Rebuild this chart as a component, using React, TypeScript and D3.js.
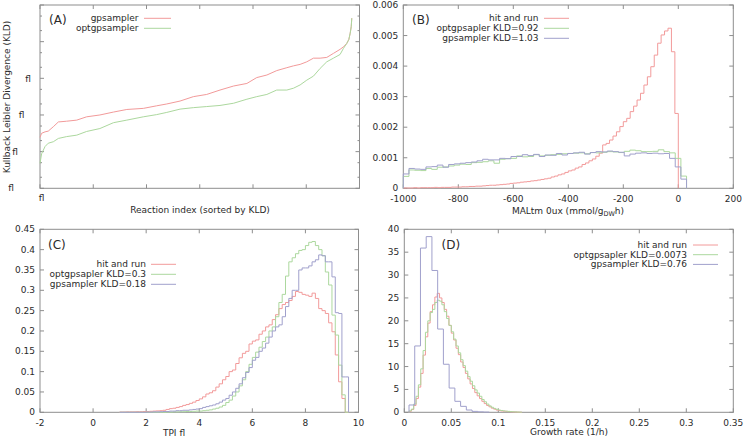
import React from 'react';
import * as d3 from 'd3';

// ---------- Panel A: sorted KLD (log10 values) ----------
const aIndex = [0, 6, 19, 31, 50, 69, 100, 138, 175, 225, 276, 326, 388, 438, 476, 526, 576, 626, 676, 727, 777, 814, 852, 889, 927, 952, 977, 1002, 1027, 1052, 1077, 1102, 1127, 1140, 1152, 1160, 1165, 1169, 1171];
const aGpsamplerLog = [-2.61, -2.5, -2.46, -2.44, -2.32, -2.19, -2.17, -2.14, -2.05, -2.0, -1.92, -1.85, -1.82, -1.75, -1.7, -1.62, -1.5, -1.44, -1.32, -1.21, -1.14, -0.98, -0.91, -0.79, -0.71, -0.66, -0.62, -0.55, -0.45, -0.45, -0.43, -0.32, -0.21, -0.14, -0.05, 0.06, 0.23, 0.41, 0.64];
const aOptgpsamplerLog = [-3.32, -3.06, -2.86, -2.77, -2.73, -2.64, -2.59, -2.55, -2.45, -2.37, -2.21, -2.14, -2.05, -1.99, -1.93, -1.84, -1.8, -1.77, -1.74, -1.68, -1.57, -1.5, -1.44, -1.32, -1.32, -1.27, -1.18, -1.05, -0.94, -0.73, -0.55, -0.45, -0.35, -0.18, -0.05, 0.06, 0.23, 0.41, 0.64];
const aLegend = ['gpsampler', 'optgpsampler'];

// ---------- Panel B: MALtm flux histograms ----------
const bHitStart = -1000;
const bHitWidth = 12.5;
const bHitAndRun = [
  0.00001, 0.00001, 0.00001, 0.00002, 0.00001, 0.00002, 0.00002, 0.00002,
  0.00002, 0.00003, 0.00002, 0.00003, 0.00003, 0.00003, 0.00004, 0.00004,
  0.00004, 0.00005, 0.00005, 0.00006, 0.00006, 0.00007, 0.00007, 0.00008,
  0.00009, 0.0001, 0.0001, 0.00011, 0.00012, 0.00013, 0.00014, 0.00016,
  0.00017, 0.00018, 0.0002, 0.00021, 0.00022, 0.00024, 0.00025, 0.00027,
  0.00029, 0.00031, 0.00033, 0.00037, 0.0004, 0.00044, 0.00047, 0.00052,
  0.00057, 0.0006, 0.00066, 0.0007, 0.00078, 0.00083, 0.0009, 0.00096,
  0.00105, 0.00115,
  0.00142, 0.00147, 0.00158, 0.00171, 0.00185, 0.00202, 0.00218, 0.00229, 0.00251, 0.00269,
  0.00289, 0.00311, 0.00338, 0.00365, 0.00398, 0.00436, 0.00475, 0.00502,
  0.00515, 0.00524, 0.00447, 0.00245,
];
const bGpStart = -1000;
const bGpWidth = 20.6;
const bOptgpsapler = [
  0.00039, 0.0006, 0.00059, 0.00058, 0.00065, 0.00062, 0.00069, 0.0007, 0.00073, 0.00076,
  0.00079, 0.00078, 0.00084, 0.00085, 0.00087, 0.0009, 0.00082, 0.00095, 0.00097, 0.00098,
  0.00106, 0.00103, 0.00104, 0.0011, 0.00106, 0.00108, 0.0011, 0.00111, 0.00113, 0.00114,
  0.00115, 0.00116, 0.00113, 0.00117, 0.00116, 0.00118, 0.0012, 0.00119, 0.00117, 0.00121,
  0.00125, 0.00123, 0.0012, 0.0012, 0.00121, 0.00126, 0.0012, 0.00116, 0.00098, 0.0004,
];
const bGpsampler = [
  0.00047, 0.00065, 0.00063, 0.00062, 0.0007, 0.00071, 0.00076, 0.00069, 0.00078, 0.0008,
  0.00082, 0.00084, 0.00086, 0.0009, 0.00095, 0.00093, 0.00093, 0.00098, 0.00097, 0.00104,
  0.00104, 0.0011, 0.00107, 0.00111, 0.00104, 0.00109, 0.00108, 0.00114, 0.00109, 0.00114,
  0.00116, 0.00118, 0.00112, 0.00117, 0.0012, 0.00119, 0.00122, 0.0012, 0.00118, 0.00106,
  0.00112, 0.00115, 0.00116, 0.00114, 0.00115, 0.00113, 0.00114, 0.00098, 0.0007, 0.0003,
];
const bLegend = ['hit and run', 'optgpsapler KLD=0.92', 'gpsampler KLD=1.03'];
const bYTicks = [0, 0.001, 0.002, 0.003, 0.004, 0.005, 0.006];
const bXTicks = [-1000, -800, -600, -400, -200, 0, 200];

// ---------- Panel C: TPI histograms ----------
const cStart = 1.0;
const cWidth = 0.125;
const cHitAndRun = [
  0.0005, 0.0005, 0.001, 0.001, 0.001, 0.0015, 0.0015, 0.002, 0.002, 0.0025,
  0.003, 0.0035, 0.004, 0.005, 0.007, 0.009, 0.01, 0.012, 0.014, 0.017,
  0.019, 0.022, 0.025, 0.029, 0.033, 0.038, 0.045, 0.048, 0.053, 0.062,
  0.07, 0.08, 0.088, 0.1, 0.104, 0.12, 0.134, 0.145, 0.15, 0.168,
  0.175, 0.178, 0.192, 0.2, 0.21, 0.215, 0.228, 0.24, 0.255, 0.265,
  0.27, 0.275, 0.285, 0.297, 0.295, 0.29, 0.288, 0.285, 0.293, 0.28,
  0.255, 0.25, 0.243, 0.22, 0.198, 0.141, 0.075, 0.034, 0,
];
const cOptgpsapler = [
  0, 0, 0, 0, 0, 0, 0, 0, 0, 0,
  0, 0, 0, 0, 0.0005, 0.0005, 0.001, 0.001, 0.0015, 0.0015,
  0.002, 0.002, 0.0025, 0.003, 0.003, 0.004, 0.005, 0.006, 0.008, 0.01,
  0.013, 0.017, 0.024, 0.03, 0.04, 0.05, 0.065, 0.08, 0.1, 0.118,
  0.135, 0.148, 0.16, 0.174, 0.185, 0.2, 0.21, 0.235, 0.27, 0.29,
  0.335, 0.37, 0.38, 0.39, 0.398, 0.4, 0.41, 0.418, 0.42, 0.41,
  0.4, 0.385, 0.345, 0.313, 0.239, 0.19, 0.116, 0.043, 0,
];
const cGpsampler = [
  0, 0, 0, 0, 0, 0, 0, 0, 0.0005, 0.0005,
  0.001, 0.001, 0.0015, 0.002, 0.002, 0.003, 0.003, 0.004, 0.004, 0.005,
  0.005, 0.006, 0.007, 0.008, 0.009, 0.012, 0.014, 0.016, 0.018, 0.021,
  0.025, 0.03, 0.034, 0.042, 0.05, 0.059, 0.07, 0.085, 0.098, 0.11,
  0.128, 0.135, 0.15, 0.158, 0.17, 0.185, 0.2, 0.21, 0.215, 0.235,
  0.26, 0.28, 0.3, 0.3, 0.35, 0.355, 0.355, 0.36, 0.37, 0.375,
  0.387, 0.385, 0.37, 0.37, 0.333, 0.245, 0.243, 0.087, 0.087,
];
const cLegend = ['hit and run', 'optgpsapler KLD=0.3', 'gpsampler KLD=0.18'];
const cYTicks = [0, 0.05, 0.1, 0.15, 0.2, 0.25, 0.3, 0.35, 0.4, 0.45];
const cXTicks = [-2, 0, 2, 4, 6, 8, 10];

// ---------- Panel D: growth rate histograms ----------
const dFineStart = 0.005;
const dFineWidth = 0.0025;
const dHitAndRun = [
  0.2, 0.6, 1.5, 3, 5.5, 8.5, 12.5, 16.5, 19.5, 22,
  23.5, 25.2, 26, 25, 24, 22.5, 21, 19, 17.3, 15.8,
  14, 12.6, 11, 9.8, 8.5, 7.3, 6.2, 5.2, 4.3, 3.6,
  3, 2.4, 1.9, 1.5, 1.2, 0.9, 0.7, 0.5, 0.4, 0.3,
  0.25, 0.2, 0.15, 0.1, 0.08, 0.05, 0.03, 0.02,
];
const dOptgpsapler = [
  0.3, 0.7, 1.8, 3.5, 6, 9.5, 13.5, 17.5, 20, 21.8,
  22.5, 24, 24.5, 24.3, 23.5, 22, 20.5, 19, 17.6, 16,
  14.5, 13, 11.5, 10.2, 9, 7.8, 6.8, 5.8, 4.9, 4.2,
  3.5, 2.8, 2.3, 1.8, 1.4, 1.1, 0.85, 0.65, 0.5, 0.4,
  0.3, 0.25, 0.2, 0.15, 0.1, 0.08, 0.05, 0.03,
];
const dGpStart = 0.005;
const dGpWidth = 0.0061;
const dGpsampler = [1.6, 14.5, 35.9, 38.4, 31, 18.2, 10.5, 5.3, 2.4, 1.3, 0.5, 0.2, 0.1, 0.05];
const dLegend = ['hit and run', 'optgpsapler KLD=0.0073', 'gpsampler KLD=0.76'];
const dYTicks = [0, 5, 10, 15, 20, 25, 30, 35, 40];
const dXTicks = [0, 0.05, 0.1, 0.15, 0.2, 0.25, 0.3, 0.35];

// ---------- styles ----------
const FONT = '"DejaVu Sans", sans-serif';
const RED = '#f29a9a';
const GREEN = '#acd89e';
const BLUE = '#a0a0cc';
const BORDER = '#8e8e8e';
const TEXT = '#2a2a2a';
const FS = 9;

type Scale = d3.ScaleLinear<number, number>;

function stepPath(start: number, width: number, vals: number[], xs: Scale, ys: Scale) {
  const pts: [number, number][] = [[start, 0]];
  vals.forEach((v, i) => {
    pts.push([start + i * width, v]);
    pts.push([start + (i + 1) * width, v]);
  });
  pts.push([start + vals.length * width, 0]);
  return d3.line<[number, number]>().x((d) => xs(d[0])).y((d) => ys(d[1]))(pts) || '';
}

function fmt(v: number) {
  return String(+v.toFixed(4));
}

function Frame({ xs, ys, xTicks, yTicks, yMinor = [], showX = true, showY = true }: any) {
  const [x0, x1] = xs.range();
  const [y0, y1] = ys.range();
  const L = 4;
  const l = 2;
  return (
    <g>
      <rect x={x0} y={y1} width={x1 - x0} height={y0 - y1} fill="none" stroke={BORDER} strokeWidth={1} />
      {xTicks.map((t: number, i: number) => (
        <g key={'x' + i}>
          <line x1={xs(t)} x2={xs(t)} y1={y0} y2={y0 - L} stroke={BORDER} />
          <line x1={xs(t)} x2={xs(t)} y1={y1} y2={y1 + L} stroke={BORDER} />
          {showX && (
            <text x={xs(t)} y={y0 + 11} textAnchor="middle" dominantBaseline="central" fontSize={FS} fill={TEXT}>
              {fmt(t)}
            </text>
          )}
        </g>
      ))}
      {yTicks.map((t: number, i: number) => (
        <g key={'y' + i}>
          <line x1={x0} x2={x0 + L} y1={ys(t)} y2={ys(t)} stroke={BORDER} />
          <line x1={x1} x2={x1 - L} y1={ys(t)} y2={ys(t)} stroke={BORDER} />
          {showY && (
            <text x={x0 - 5} y={ys(t)} textAnchor="end" dominantBaseline="central" fontSize={FS} fill={TEXT}>
              {fmt(t)}
            </text>
          )}
        </g>
      ))}
      {yMinor.map((t: number, i: number) => (
        <g key={'ym' + i}>
          <line x1={x0} x2={x0 + l} y1={ys(t)} y2={ys(t)} stroke={BORDER} />
          <line x1={x1} x2={x1 - l} y1={ys(t)} y2={ys(t)} stroke={BORDER} />
        </g>
      ))}
    </g>
  );
}

function Legend({ labels, colors, textRight, lineX0, lineX1, y0, dy }: any) {
  return (
    <g>
      {labels.map((lab: string, i: number) => (
        <g key={i}>
          <text x={textRight} y={y0 + i * dy} textAnchor="end" dominantBaseline="central" fontSize={FS} fill={TEXT}>
            {lab}
          </text>
          <line x1={lineX0} x2={lineX1} y1={y0 + i * dy} y2={y0 + i * dy} stroke={colors[i]} strokeWidth={1} />
        </g>
      ))}
    </g>
  );
}

export default function App() {
  // Panel A
  const xA = d3.scaleLinear().domain([0, 1200]).range([40, 359.5]);
  const yA = d3.scaleLinear().domain([-4, 1]).range([188.3, 5]);
  const aMajor = [-4, -3, -2, -1, 0, 1];
  const aMinor: number[] = [];
  [-4, -3, -2, -1, 0].forEach((d) => {
    aMinor.push(d + Math.log10(2));
    aMinor.push(d + Math.log10(5));
  });
  const aXTicks = [0, 200, 400, 600, 800, 1000, 1200];
  const lineA = (vals: number[]) =>
    d3.line<number>().x((_, i) => xA(aIndex[i])).y((d) => yA(d))(vals) || '';

  // Panel B
  const xB = d3.scaleLinear().domain([-1000, 200]).range([403.3, 733.3]);
  const yB = d3.scaleLinear().domain([0, 0.006]).range([188.3, 5]);

  // Panel C
  const xC = d3.scaleLinear().domain([-2, 10]).range([40, 358.5]);
  const yC = d3.scaleLinear().domain([0, 0.45]).range([412.3, 229.3]);

  // Panel D
  const xD = d3.scaleLinear().domain([0, 0.35]).range([404.3, 733.3]);
  const yD = d3.scaleLinear().domain([0, 40]).range([412.3, 229.3]);

  const fLabels: [number, number][] = [
    [11, 188.3],
    [15, 151.7],
    [21.7, 115.3],
    [28, 78.7],
  ];

  return (
    <div style={{ position: 'absolute', left: 0, top: 0 }}>
      <svg width={745} height={439} style={{ display: 'block', background: '#fff' }} fontFamily={FONT}>
        <rect x={0} y={0} width={745} height={439} fill="#fff" />

        {/* Panel A */}
        <Frame xs={xA} ys={yA} xTicks={aXTicks} yTicks={aMajor} yMinor={aMinor} showX={false} showY={false} />
        {fLabels.map(([x, y], i) => (
          <text key={i} x={x} y={y} textAnchor="middle" dominantBaseline="central" fontSize={FS} fill={TEXT}>
            fl
          </text>
        ))}
        <text x={41.7} y={198} textAnchor="middle" dominantBaseline="central" fontSize={FS} fill={TEXT}>
          fl
        </text>
        <text x={200} y={210} textAnchor="middle" dominantBaseline="central" fontSize={FS} fill={TEXT}>
          Reaction index (sorted by KLD)
        </text>
        <text
          transform={`translate(7,97) rotate(-90)`}
          textAnchor="middle"
          dominantBaseline="central"
          fontSize={FS}
          fill={TEXT}
        >
          Kullback Leibler Divergence (KLD)
        </text>
        <text x={49} y={20} fontSize={12} dominantBaseline="central" fill={TEXT}>(A)</text>
        <path d={lineA(aGpsamplerLog)} fill="none" stroke={RED} strokeWidth={1} />
        <path d={lineA(aOptgpsamplerLog)} fill="none" stroke={GREEN} strokeWidth={1} />
        <Legend labels={aLegend} colors={[RED, GREEN]} textRight={138.5} lineX0={144} lineX1={171} y0={18.3} dy={10} />

        {/* Panel B */}
        <Frame xs={xB} ys={yB} xTicks={bXTicks} yTicks={bYTicks} />
        <path d={stepPath(bHitStart, bHitWidth, bHitAndRun, xB, yB)} fill="none" stroke={RED} strokeWidth={1} />
        <path d={stepPath(bGpStart, bGpWidth, bOptgpsapler, xB, yB)} fill="none" stroke={GREEN} strokeWidth={1} />
        <path d={stepPath(bGpStart, bGpWidth, bGpsampler, xB, yB)} fill="none" stroke={BLUE} strokeWidth={1} />
        <Legend labels={bLegend} colors={[RED, GREEN, BLUE]} textRight={538.5} lineX0={544} lineX1={569} y0={18.3} dy={10} />
        <text x={412} y={20} fontSize={12} dominantBaseline="central" fill={TEXT}>(B)</text>
        <text x={568} y={211} textAnchor="middle" dominantBaseline="central" fontSize={FS} fill={TEXT}>
          MALtm 0ux (mmol/g
          <tspan fontSize={6.5} dy={2.5}>DW</tspan>
          <tspan dy={-2.5}>h)</tspan>
        </text>

        {/* Panel C */}
        <Frame xs={xC} ys={yC} xTicks={cXTicks} yTicks={cYTicks} />
        <path d={stepPath(cStart, cWidth, cHitAndRun, xC, yC)} fill="none" stroke={RED} strokeWidth={1} />
        <path d={stepPath(cStart, cWidth, cOptgpsapler, xC, yC)} fill="none" stroke={GREEN} strokeWidth={1} />
        <path d={stepPath(cStart, cWidth, cGpsampler, xC, yC)} fill="none" stroke={BLUE} strokeWidth={1} />
        <Legend labels={cLegend} colors={[RED, GREEN, BLUE]} textRight={146} lineX0={151} lineX1={176} y0={264.3} dy={10} />
        <text x={48} y={245} fontSize={12} dominantBaseline="central" fill={TEXT}>(C)</text>
        <text x={174} y={433} textAnchor="middle" dominantBaseline="central" fontSize={FS} fill={TEXT}>
          TPI fl
        </text>

        {/* Panel D */}
        <Frame xs={xD} ys={yD} xTicks={dXTicks} yTicks={dYTicks} />
        <path d={stepPath(dFineStart, dFineWidth, dHitAndRun, xD, yD)} fill="none" stroke={RED} strokeWidth={1} />
        <path d={stepPath(dFineStart, dFineWidth, dOptgpsapler, xD, yD)} fill="none" stroke={GREEN} strokeWidth={1} />
        <path d={stepPath(dGpStart, dGpWidth, dGpsampler, xD, yD)} fill="none" stroke={BLUE} strokeWidth={1} />
        <Legend labels={dLegend} colors={[RED, GREEN, BLUE]} textRight={687} lineX0={693} lineX1={718} y0={245} dy={9.7} />
        <text x={441.5} y={245} fontSize={12} dominantBaseline="central" fill={TEXT}>(D)</text>
        <text x={569} y={432} textAnchor="middle" dominantBaseline="central" fontSize={FS} fill={TEXT}>
          Growth rate (1/h)
        </text>
      </svg>
    </div>
  );
}
